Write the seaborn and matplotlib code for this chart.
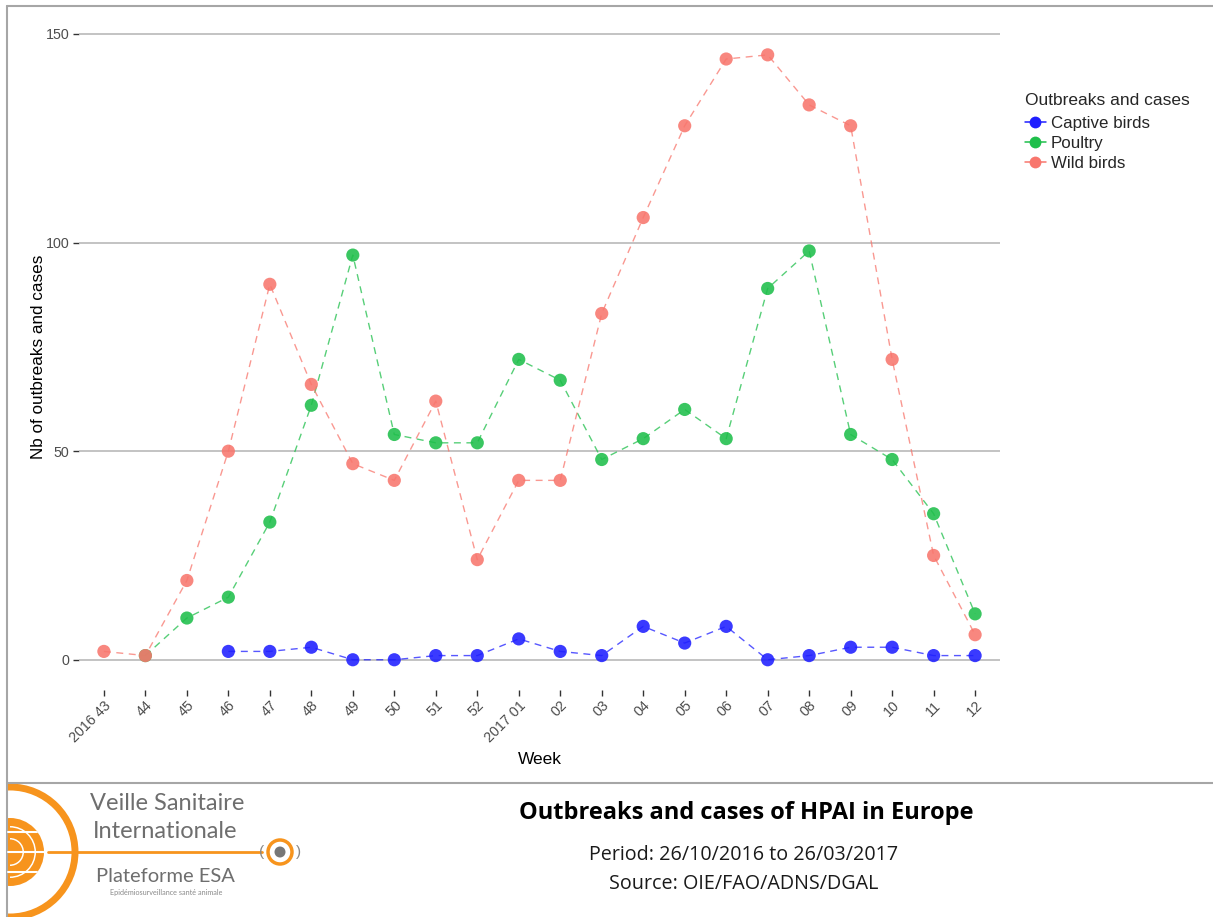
import numpy as np
import pandas as pd
import matplotlib
matplotlib.use("Agg")
import matplotlib.pyplot as plt
from matplotlib.patches import Circle, Rectangle, Wedge
from matplotlib.lines import Line2D
import seaborn as sns

# ---------------- data ----------------
week_labels = ["2016 43", "44", "45", "46", "47", "48", "49", "50", "51", "52",
               "2017 01", "02", "03", "04", "05", "06", "07", "08", "09", "10", "11", "12"]
wild_birds = [2, 1, 19, 50, 90, 66, 47, 43, 62, 24, 43, 43, 83, 106, 128, 144, 145, 133, 128, 72, 25, 6]
poultry = [np.nan, 1, 10, 15, 33, 61, 97, 54, 52, 52, 72, 67, 48, 53, 60, 53, 89, 98, 54, 48, 35, 11]
captive_birds = [np.nan, np.nan, np.nan, 2, 2, 3, 0, 0, 1, 1, 5, 2, 1, 8, 4, 8, 0, 1, 3, 3, 1, 1]
series_names = ["Captive birds", "Poultry", "Wild birds"]
series_colors = ["#1f1fff", "#1fbf4b", "#f8766d"]

pos = np.arange(1, len(week_labels) + 1)
frames = []
for name, vals in zip(series_names, [captive_birds, poultry, wild_birds]):
    frames.append(pd.DataFrame({"pos": pos, "value": vals, "type": name}))
df = pd.concat(frames).dropna()

# ---------------- figure ----------------
sns.set_theme(style="white")
plt.rcParams["font.family"] = ["Liberation Sans", "DejaVu Sans"]

W, H = 1213, 917
fig = plt.figure(figsize=(W / 100, H / 100), dpi=100)
fig.patch.set_facecolor("white")

# frame / decoration axes in pixel coords
deco = fig.add_axes([0, 0, 1, 1])
deco.set_xlim(0, W)
deco.set_ylim(H, 0)
deco.axis("off")
deco.plot([7, 7], [6, H], color="#a6a6a6", lw=1.5)
deco.plot([7, W], [6, 6], color="#a6a6a6", lw=1.5)
deco.plot([7, W], [783, 783], color="#a6a6a6", lw=1.5)

# main axes
left_px, right_px = 79, 1000
top_px, bot_px = 24.6, 690
ax = fig.add_axes([left_px / W, 1 - bot_px / H, (right_px - left_px) / W, (bot_px - top_px) / H])
ax.set_facecolor("none")

palette = dict(zip(series_names, series_colors))
sns.lineplot(data=df, x="pos", y="value", hue="type", hue_order=series_names,
             palette=palette, ax=ax, legend=False, lw=1.0, alpha=0.75,
             dashes=False, linestyle=(0, (5, 4)), zorder=3)
sns.scatterplot(data=df, x="pos", y="value", hue="type", hue_order=series_names,
                palette=palette, ax=ax, legend=False, s=90, alpha=0.88,
                edgecolor="none", zorder=4)

ax.set_xlim(0.4, 22.6)
ax.set_ylim(-7.25, 152.25)
ax.set_yticks([0, 50, 100, 150])
ax.set_yticklabels(["0", "50", "100", "150"])
ax.set_xticks(pos)
ax.set_xticklabels(week_labels, rotation=45, ha="right", va="top", rotation_mode="anchor")
for y in [0, 50, 100, 150]:
    ax.axhline(y, color="#bebebe", lw=1.3, zorder=1)
for s in ax.spines.values():
    s.set_visible(False)
ax.tick_params(axis="both", which="major", length=4, width=1, color="#333333",
               labelsize=10.3, labelcolor="#4d4d4d", pad=3, bottom=True, left=True)
ax.tick_params(axis="x", pad=2)
ax.set_xlabel("Week", fontsize=12.5, color="black", labelpad=5)
ax.set_ylabel("Nb of outbreaks and cases", fontsize=12.3, color="black")
ax.yaxis.set_label_coords(-0.036, 0.5)
ax.grid(False)

# legend
handles = [Line2D([0], [0], color=c, lw=1.1, marker="o", markersize=8.5, markeredgewidth=0)
           for c in series_colors]
leg = fig.legend(handles, series_names, title="Outbreaks and cases",
                 loc="upper left", bbox_to_anchor=(1018 / W, 1 - 86 / H),
                 frameon=False, fontsize=12.2, title_fontsize=12.5,
                 handlelength=1.25, handletextpad=0.3, labelspacing=0.28,
                 borderaxespad=0)
leg._legend_box.align = "left"
leg._legend_box.sep = 6

# bottom captions
deco.text(746, 813, "Outbreaks and cases of HPAI in Europe", ha="center", va="center",
          fontsize=17, fontweight="bold", family=["Open Sans", "DejaVu Sans"], color="black")
deco.text(744, 855, "Period: 26/10/2016 to 26/03/2017", ha="center", va="center",
          fontsize=14.2, family=["Open Sans", "DejaVu Sans"], color="#1a1a1a")
deco.text(744, 884, "Source: OIE/FAO/ADNS/DGAL", ha="center", va="center",
          fontsize=14.2, family=["Open Sans", "DejaVu Sans"], color="#1a1a1a")

# logo approximation
orange = "#f7941d"
clip = Rectangle((8, 784), 400, 140, transform=deco.transData)
ring = Circle((10, 852), 65, fill=False, ec=orange, lw=5)
deco.add_patch(ring)
ring.set_clip_path(clip)
globe = Circle((10, 852), 34, fc=orange, ec="none")
deco.add_patch(globe)
globe.set_clip_path(clip)
for yy in [832, 852, 872]:
    ln, = deco.plot([8, 44], [yy, yy], color="white", lw=1.5)
    ln.set_clip_path(globe)
for rx in [14, 26]:
    arc = Wedge((10, 852), rx, -90, 90, width=1.5, fc="white", ec="none")
    deco.add_patch(arc)
    arc.set_clip_path(globe)
deco.plot([48, 262], [852, 852], color=orange, lw=2)
deco.add_patch(Circle((280, 852), 12, fill=False, ec=orange, lw=2.5))
deco.add_patch(Circle((280, 852), 5.5, fc="#777777", ec="none"))
deco.text(262, 852, "(", ha="center", va="center", fontsize=11, color="#888888")
deco.text(298, 852, ")", ha="center", va="center", fontsize=11, color="#888888")
deco.text(167, 803, "Veille Sanitaire", ha="center", va="center", fontsize=17,
          color="#6e6e6e", family=["Lato", "DejaVu Sans"])
deco.text(165, 832, "Internationale", ha="center", va="center", fontsize=17,
          color="#6e6e6e", family=["Lato", "DejaVu Sans"])
deco.text(165, 876, "Plateforme ESA", ha="center", va="center", fontsize=14.5,
          color="#6e6e6e", family=["Lato", "DejaVu Sans"])
deco.text(166, 892, "Epidémiosurveillance santé animale", ha="center", va="center",
          fontsize=5.2, color="#8a8a8a", family=["Lato", "DejaVu Sans"])

fig.savefig("out.png", dpi=100, facecolor="white")
